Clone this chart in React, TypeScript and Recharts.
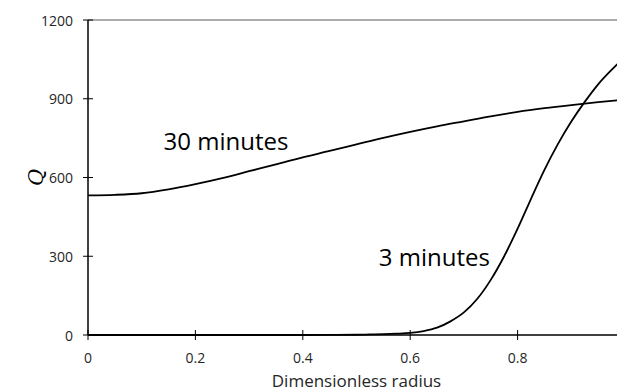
import { LineChart, Line, XAxis, YAxis, ReferenceLine, ReferenceDot } from "recharts";

const xTicks = [0, 0.2, 0.4, 0.6, 0.8, 1];
const yTicks = [0, 300, 600, 900, 1200];

const r30 = [0, 0.05, 0.1, 0.15, 0.2, 0.25, 0.3, 0.35, 0.4, 0.45, 0.5, 0.55, 0.6, 0.65, 0.7, 0.75, 0.8, 0.85, 0.9, 0.95, 1.0];
const q30 = [532, 534, 540, 555, 575, 598, 624, 650, 677, 701, 726, 751, 774, 795, 814, 833, 850, 864, 876, 887, 897];

const r3 = [0, 0.1, 0.2, 0.3, 0.4, 0.45, 0.5, 0.525, 0.55, 0.575, 0.6, 0.625, 0.65, 0.675, 0.7, 0.725, 0.75, 0.775, 0.8, 0.825, 0.85, 0.875, 0.9, 0.925, 0.95, 0.975, 1.0];
const q3 = [0, 0, 0, 0, 0, 0.3, 1, 2, 3, 5, 8, 15, 28, 52, 86, 138, 210, 300, 405, 519, 629, 727, 813, 888, 955, 1010, 1060];

const data30 = r30.map((r, i) => ({ r, q: q30[i] }));
const data3 = r3.map((r, i) => ({ r, q: q3[i] }));

const font = "'Open Sans', sans-serif";

const YTick = ({ x, y, payload }: any) => {
  const ax = x + 15;
  return (
    <g>
      <line x1={ax - 5} x2={ax + 5} y1={y} y2={y} stroke="#000" />
      <text x={x} y={y} textAnchor="end" dominantBaseline="central" fontSize={14} fontFamily={font} fill="#262626">
        {payload.value}
      </text>
    </g>
  );
};

const XTick = ({ x, y, payload }: any) => {
  const ay = y - 22;
  return (
    <g>
      <line x1={x} x2={x} y1={ay - 5} y2={ay + 5} stroke="#000" />
      <text x={x} y={y} textAnchor="middle" dominantBaseline="central" fontSize={14} fontFamily={font} fill="#262626">
        {payload.value}
      </text>
    </g>
  );
};

export default function App() {
  return (
    <div style={{ width: 617, overflow: "hidden" }}>
      <LineChart width={617} height={382} margin={{ top: 12, right: 0, left: 0, bottom: 0 }}>
        <XAxis
          dataKey="r" type="number" domain={[0, 1]} ticks={xTicks} interval={0}
          height={55} tickSize={5} tickMargin={17} tickLine={false}
          axisLine={{ stroke: "#000", strokeWidth: 1.5 }} tick={<XTick />}
          label={{ value: "Dimensionless radius", position: "center", dy: 18, fontSize: 17, fontFamily: font, fill: "#262626" }}
        />
        <YAxis
          type="number" domain={[0, 1200]} ticks={yTicks} interval={0}
          width={80} tickSize={5} tickMargin={10} tickLine={false}
          axisLine={{ stroke: "#000", strokeWidth: 1.5 }} tick={<YTick />}
          label={{ value: "Q", angle: -90, position: "center", dx: -12, fontSize: 21, fontFamily: "'DejaVu Serif', serif", fontStyle: "italic", fill: "#000" }}
        />
        <ReferenceLine y={1200} stroke="#595959" strokeWidth={1} />
        <Line data={data30} dataKey="q" type="monotone" stroke="#000" strokeWidth={1.8} dot={false} isAnimationActive={false} />
        <Line data={data3} dataKey="q" type="monotone" stroke="#000" strokeWidth={1.8} dot={false} isAnimationActive={false} />
        <ReferenceDot x={0.257} y={739} r={0} label={{ value: "30 minutes", position: "center", fontSize: 24, fontFamily: font, fill: "#000" }} />
        <ReferenceDot x={0.645} y={297} r={0} label={{ value: "3 minutes", position: "center", fontSize: 24, fontFamily: font, fill: "#000" }} />
      </LineChart>
    </div>
  );
}
